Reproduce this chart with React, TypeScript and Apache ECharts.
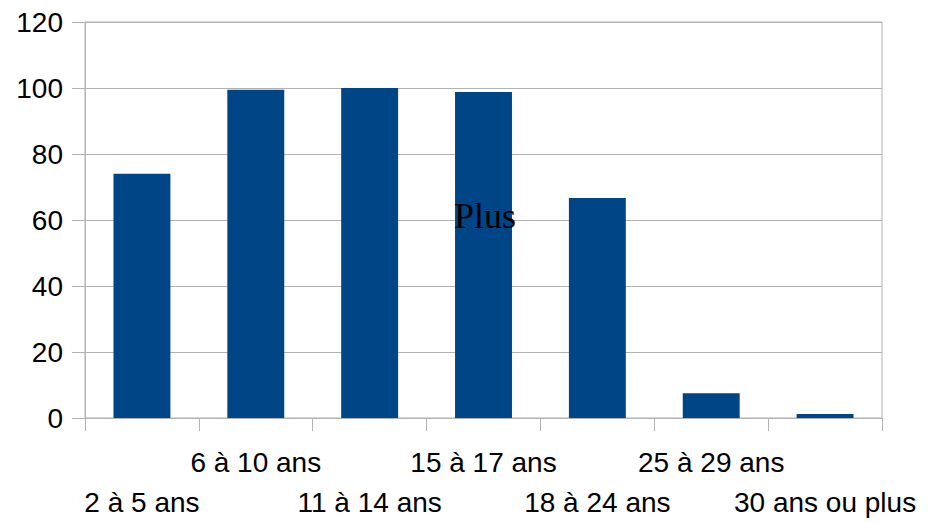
import React, { useEffect, useRef } from "react";
import * as echarts from "echarts";

const categories = [
  "2 à 5 ans",
  "6 à 10 ans",
  "11 à 14 ans",
  "15 à 17 ans",
  "18 à 24 ans",
  "25 à 29 ans",
  "30 ans ou plus",
];
const values = [74, 99.5, 100, 98.8, 66.7, 7.5, 1.2];
const yMin = 0;
const yMax = 120;
const yInterval = 20;
const titleText = "Plus";

export default function App() {
  const ref = useRef<HTMLDivElement>(null);
  useEffect(() => {
    document.body.style.margin = "0";
    document.body.style.overflow = "hidden";
    if (!ref.current) return;
    const chart = echarts.init(ref.current, undefined, { renderer: "svg" });
    const gray = "#b3b3b3";
    chart.setOption({
      animation: false,
      backgroundColor: "#ffffff",
      grid: {
        left: 85,
        right: 56,
        top: 22,
        bottom: 103,
        show: true,
        borderColor: gray,
        borderWidth: 1,
      },
      graphic: [
        {
          type: "text",
          left: 454,
          top: 198,
          z: 100,
          zlevel: 1,
          style: {
            text: titleText,
            font: '36px "Liberation Serif"',
            fill: "#000000",
          },
        },
      ],
      xAxis: {
        type: "category",
        data: categories,
        boundaryGap: true,
        axisLine: { lineStyle: { color: gray, width: 1 } },
        axisTick: { show: true, length: 13, lineStyle: { color: gray }, alignWithLabel: false },
        axisLabel: {
          interval: 0,
          margin: 24,
          color: "#000000",
          fontFamily: "Liberation Sans",
          fontSize: 28,
          lineHeight: 40,
          formatter: (v: string, i: number) => (i % 2 === 0 ? "\n" + v : v),
        },
        splitLine: { show: false },
      },
      yAxis: {
        type: "value",
        min: yMin,
        max: yMax,
        interval: yInterval,
        axisLine: { show: true, lineStyle: { color: gray, width: 1 } },
        axisTick: { show: true, length: 13, lineStyle: { color: gray } },
        axisLabel: {
          margin: 22,
          color: "#000000",
          fontFamily: "Liberation Sans",
          fontSize: 28,
        },
        splitLine: { show: true, lineStyle: { color: gray, width: 1 } },
      },
      series: [
        {
          type: "bar",
          data: values,
          barWidth: "50%",
          itemStyle: { color: "#004586" },
        },
      ],
    });
    return () => chart.dispose();
  }, []);
  return <div ref={ref} style={{ width: 938, height: 522 }} />;
}
